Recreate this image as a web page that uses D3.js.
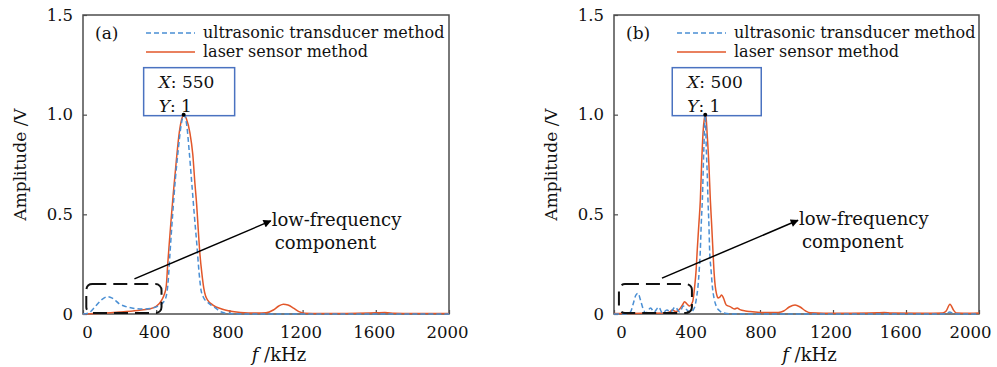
<!DOCTYPE html>
<html><head><meta charset="utf-8">
<script src="https://cdn.jsdelivr.net/npm/d3@7"></script>
<style>body{margin:0;background:#fff}text{font-family:"DejaVu Serif",serif;fill:#111}</style>
</head><body>
<svg id="c" width="997" height="367"></svg>
<script>
// ---------- data ----------
const xTicks = [0, 400, 800, 1200, 1600, 2000];
const yTicks = [0, 0.5, 1.0, 1.5];
const yTickLabels = ["0", "0.5", "1.0", "1.5"];
const seriesNames = ["ultrasonic transducer method", "laser sensor method"];
const panelLabels = ["(a)", "(b)"];
const peakX = [550, 500];
const peakY = [1, 1];
const noteLines = ["low-frequency", "component"];

// panel (a)
const aUltraF = [0, 30, 60, 100, 135, 160, 200, 235, 280, 330, 380, 420, 440, 455, 465, 475, 490, 505, 520, 535, 552, 568, 580, 595, 608, 622, 635, 645, 660, 680, 700, 725, 750, 800, 900, 1100, 1400, 1700, 2000];
const aUltraA = [0, 0.005, 0.03, 0.07, 0.087, 0.08, 0.05, 0.037, 0.028, 0.025, 0.03, 0.045, 0.06, 0.09, 0.16, 0.3, 0.5, 0.68, 0.82, 0.94, 1.0, 0.94, 0.82, 0.65, 0.5, 0.35, 0.2, 0.12, 0.08, 0.06, 0.045, 0.03, 0.012, 0.002, 0, 0, 0, 0, 0];
const aLaserF = [0, 100, 200, 300, 360, 400, 430, 445, 455, 463, 471, 482, 493, 510, 526, 540, 552, 565, 584, 600, 612, 621, 630, 639, 650, 660, 670, 681, 710, 758, 800, 860, 950, 1000, 1040, 1070, 1095, 1120, 1150, 1180, 1210, 1300, 1400, 1500, 1600, 1650, 1700, 1800, 1900, 2000];
const aLaserA = [0, 0.004, 0.01, 0.018, 0.025, 0.038, 0.07, 0.1, 0.14, 0.25, 0.35, 0.48, 0.6, 0.77, 0.91, 0.98, 1.0, 0.98, 0.91, 0.8, 0.65, 0.55, 0.42, 0.3, 0.2, 0.13, 0.09, 0.07, 0.045, 0.025, 0.015, 0.008, 0.005, 0.006, 0.02, 0.04, 0.049, 0.045, 0.03, 0.012, 0.004, 0.003, 0.003, 0.004, 0.006, 0.007, 0.004, 0.002, 0.002, 0.002];

// panel (b)
const bUltraF = [0, 60, 90, 105, 120, 132, 145, 160, 175, 200, 220, 245, 265, 290, 310, 335, 360, 380, 400, 420, 440, 452, 460, 467, 473, 478, 484, 492, 500, 506, 511, 515, 520, 524, 532, 539, 548, 560, 580, 600, 650, 900, 1200, 1500, 1800, 1825, 1840, 1855, 1880, 2000];
const bUltraA = [0, 0, 0.01, 0.05, 0.095, 0.104, 0.07, 0.025, 0.005, 0.03, 0.01, 0.035, 0.005, 0.02, 0.01, 0.035, 0.01, 0.04, 0.02, 0.01, 0.03, 0.08, 0.137, 0.22, 0.32, 0.45, 0.57, 0.82, 1.0, 0.82, 0.7, 0.57, 0.45, 0.32, 0.22, 0.137, 0.08, 0.04, 0.015, 0.005, 0, 0, 0, 0, 0, 0.004, 0.01, 0.004, 0, 0];
const bLaserF = [0, 100, 200, 280, 305, 320, 340, 360, 375, 387, 400, 415, 425, 433, 442, 450, 456, 465, 473, 480, 488, 495, 500, 505, 510, 520, 528, 535, 542, 549, 555, 562, 570, 580, 590, 600, 615, 636, 660, 675, 690, 720, 745, 800, 855, 900, 930, 960, 992, 1020, 1050, 1075, 1150, 1300, 1440, 1480, 1520, 1700, 1800, 1820, 1841, 1860, 1875, 1950, 2000];
const bLaserA = [0.002, 0.003, 0.004, 0.005, 0.01, 0.02, 0.012, 0.025, 0.045, 0.062, 0.05, 0.04, 0.05, 0.07, 0.137, 0.22, 0.32, 0.45, 0.57, 0.75, 0.91, 0.98, 1.0, 0.98, 0.91, 0.75, 0.57, 0.45, 0.32, 0.2, 0.137, 0.1, 0.08, 0.085, 0.095, 0.08, 0.045, 0.037, 0.025, 0.03, 0.022, 0.015, 0.012, 0.008, 0.007, 0.008, 0.015, 0.035, 0.045, 0.035, 0.015, 0.006, 0.004, 0.004, 0.006, 0.007, 0.005, 0.004, 0.005, 0.015, 0.049, 0.02, 0.005, 0.004, 0.005];

// annotation geometry in data units
const boxF = [[18, 429], [27, 427]];
const boxA = [0.005, 0.15];
const arrowFrom = [[281, 0.176], [263, 0.18]];
const arrowTo = [[1026, 0.467], [1008, 0.47]];

// ---------- layout ----------
const panels = [
  {left: 83, right: 449, ultraF: aUltraF, ultraA: aUltraA, laserF: aLaserF, laserA: aLaserA, tipDx: -40, tipW: 91,
   labelShift: f => (f === 0 ? 4 : -2)},
  {left: 614, right: 979, ultraF: bUltraF, ultraA: bUltraA, laserF: bLaserF, laserA: bLaserA, tipDx: -33, tipW: 89,
   labelShift: f => 7 - 16 * f / 2000}
];
const plotTop = 15, plotBottom = 314;
const blue = "#4a8fd4", red = "#e2572a", frame = "#4d4d4d";
const fsTick = 16.5, fsLegend = 16, fsNote = 18, fsTitle = 17, fsTip = 17;

const svg = d3.select("#c");
svg.append("defs").append("marker")
  .attr("id", "arr").attr("viewBox", "0 0 10 10").attr("refX", 9).attr("refY", 5)
  .attr("markerWidth", 10).attr("markerHeight", 8).attr("markerUnits", "userSpaceOnUse")
  .attr("orient", "auto")
  .append("path").attr("d", "M0,0 L10,5 L0,10 z").attr("fill", "#000");

panels.forEach((p, i) => {
  const x = d3.scaleLinear().domain([0, 2000]).range([p.left, p.right]);
  const y = d3.scaleLinear().domain([0, 1.5]).range([plotBottom, plotTop]);
  const g = svg.append("g");

  // axes
  const xa = g.append("g").attr("transform", `translate(0,${plotBottom})`)
    .call(d3.axisBottom(x).tickValues(xTicks).tickSizeInner(-4).tickSizeOuter(0).tickPadding(12).tickFormat(d3.format("d")));
  xa.selectAll(".tick text").attr("dx", d => p.labelShift(d));
  const ya = g.append("g").attr("transform", `translate(${p.left},0)`)
    .call(d3.axisLeft(y).tickValues(yTicks).tickSizeInner(-4).tickSizeOuter(0).tickPadding(10).tickFormat((d, k) => yTickLabels[k]));
  [xa, ya].forEach(a => {
    a.select(".domain").remove();
    a.selectAll(".tick line").attr("stroke", frame).attr("stroke-width", 1.2);
    a.selectAll(".tick text").attr("font-size", fsTick).attr("font-family", "DejaVu Serif").attr("fill", "#111");
  });

  // frame
  g.append("rect").attr("x", p.left).attr("y", plotTop).attr("width", p.right - p.left).attr("height", plotBottom - plotTop)
    .attr("fill", "none").attr("stroke", frame).attr("stroke-width", 1.5);

  // curves
  const line = d3.line().x(d => x(d[0])).y(d => y(d[1])).curve(d3.curveMonotoneX);
  const ultra = p.ultraF.map((f, k) => [f, p.ultraA[k]]);
  const laser = p.laserF.map((f, k) => [f, p.laserA[k]]);
  g.append("path").datum(laser).attr("d", line).attr("fill", "none").attr("stroke", red).attr("stroke-width", 1.5);
  g.append("path").datum(ultra).attr("d", line).attr("fill", "none").attr("stroke", blue).attr("stroke-width", 1.5).attr("stroke-dasharray", "5,3");

  // low-frequency dashed box
  g.append("rect").attr("x", x(boxF[i][0])).attr("y", y(boxA[1]))
    .attr("width", x(boxF[i][1]) - x(boxF[i][0])).attr("height", y(boxA[0]) - y(boxA[1]))
    .attr("rx", 6).attr("fill", "none").attr("stroke", "#111").attr("stroke-width", 2).attr("stroke-dasharray", "14,7");

  // arrow + note
  g.append("line").attr("x1", x(arrowFrom[i][0])).attr("y1", y(arrowFrom[i][1]))
    .attr("x2", x(arrowTo[i][0])).attr("y2", y(arrowTo[i][1]))
    .attr("stroke", "#000").attr("stroke-width", 1.5).attr("marker-end", "url(#arr)");
  noteLines.forEach((t, k) => {
    g.append("text").attr("x", x(arrowTo[i][0]) + 1 + k * 3).attr("y", y(arrowTo[i][1]) + 5 + k * 23)
      .attr("font-size", fsNote).text(t);
  });

  // data tip
  const px = x(peakX[i]), py = y(peakY[i]);
  g.append("rect").attr("x", px + p.tipDx).attr("y", py - 47).attr("width", p.tipW).attr("height", 48)
    .attr("fill", "#fff").attr("stroke", "#4a72c0").attr("stroke-width", 1.5);
  const tip1 = g.append("text").attr("x", px + p.tipDx + 15).attr("y", py - 27).attr("font-size", fsTip);
  tip1.append("tspan").attr("font-style", "italic").text("X");
  tip1.append("tspan").text(": " + peakX[i]);
  const tip2 = g.append("text").attr("x", px + p.tipDx + 15).attr("y", py - 3).attr("font-size", fsTip);
  tip2.append("tspan").attr("font-style", "italic").text("Y");
  tip2.append("tspan").text(": " + peakY[i]);
  g.append("circle").attr("cx", px).attr("cy", py).attr("r", 2).attr("fill", "#000");

  // legend
  g.append("text").attr("x", p.left + 12).attr("y", 39).attr("font-size", fsLegend + 1).text(panelLabels[i]);
  g.append("line").attr("x1", p.left + 63).attr("x2", p.left + 112).attr("y1", 33).attr("y2", 33)
    .attr("stroke", blue).attr("stroke-width", 1.5).attr("stroke-dasharray", "5,3");
  g.append("line").attr("x1", p.left + 63).attr("x2", p.left + 112).attr("y1", 52).attr("y2", 52)
    .attr("stroke", red).attr("stroke-width", 1.5);
  g.append("text").attr("x", p.left + 120).attr("y", 38).attr("font-size", fsLegend).text(seriesNames[0]);
  g.append("text").attr("x", p.left + 120).attr("y", 57).attr("font-size", fsLegend).text(seriesNames[1]);

  // axis titles
  g.append("text").attr("transform", `translate(${p.left - 57},${(plotTop + plotBottom) / 2}) rotate(-90)`)
    .attr("text-anchor", "middle").attr("font-size", fsTitle).text("Amplitude /V");
  const xt = g.append("text").attr("x", (p.left + p.right) / 2 + 13).attr("y", 361)
    .attr("text-anchor", "middle").attr("font-size", 18);
  xt.append("tspan").attr("font-style", "italic").text("f");
  xt.append("tspan").text(" /kHz");
});
</script>
</body></html>
